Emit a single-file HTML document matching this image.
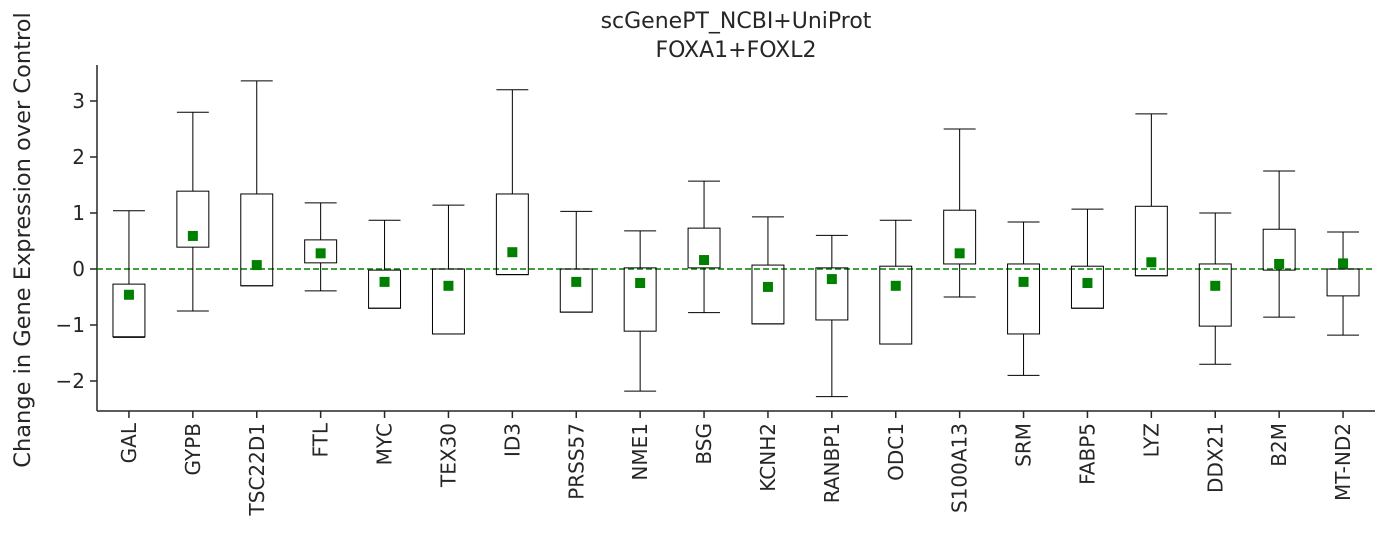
<!DOCTYPE html>
<html><head><meta charset="utf-8"><style>
html,body{margin:0;padding:0;background:#fff;}
svg{display:block;font-family:"DejaVu Sans","Liberation Sans",sans-serif;}
</style></head><body>
<svg id="chart" width="1385" height="543" viewBox="0 0 1385 543" xmlns="http://www.w3.org/2000/svg">
<text x="736" y="28" font-size="22" text-anchor="middle" fill="#262626">scGenePT_NCBI+UniProt</text>
<text x="736" y="57" font-size="22" text-anchor="middle" fill="#262626">FOXA1+FOXL2</text>
<text transform="translate(30,240) rotate(-90)" font-size="22.5" text-anchor="middle" fill="#262626">Change in Gene Expression over Control</text>
<g id="plot"></g>
</svg>
<script>
const categories = ["GAL","GYPB","TSC22D1","FTL","MYC","TEX30","ID3","PRSS57","NME1","BSG","KCNH2","RANBP1","ODC1","S100A13","SRM","FABP5","LYZ","DDX21","B2M","MT-ND2"];
const whiskerHigh = [1.04,2.8,3.36,1.18,0.87,1.14,3.2,1.03,0.68,1.57,0.93,0.6,0.87,2.5,0.84,1.07,2.77,1.0,1.75,0.66];
const q3 = [-0.27,1.39,1.34,0.52,-0.02,0,1.34,0,0.02,0.73,0.07,0.02,0.05,1.05,0.09,0.05,1.12,0.09,0.71,0];
const q1 = [-1.21,0.39,-0.3,0.11,-0.7,-1.16,-0.1,-0.77,-1.11,0.02,-0.98,-0.91,-1.34,0.09,-1.16,-0.7,-0.12,-1.02,-0.02,-0.48];
const whiskerLow = [-1.22,-0.75,-0.3,-0.39,-0.7,-1.16,-0.1,-0.77,-2.18,-0.78,-0.98,-2.28,-1.34,-0.5,-1.9,-0.7,-0.12,-1.7,-0.86,-1.18];
const means = [-0.46,0.59,0.07,0.28,-0.23,-0.3,0.3,-0.23,-0.25,0.16,-0.32,-0.18,-0.3,0.28,-0.23,-0.25,0.12,-0.3,0.09,0.1];
const yTicks = [-2,-1,0,1,2,3];

const NS="http://www.w3.org/2000/svg";
const g=document.getElementById('plot');
const X0=97,X1=1375,Y0=65,Y1=411;
const step=(X1-X0)/categories.length;
const x=i=>X0+(i+0.5)*step;
const y=v=>269-56*v;
function mk(tag,attrs){const e=document.createElementNS(NS,tag);for(const k in attrs)e.setAttribute(k,attrs[k]);g.appendChild(e);return e;}

let e;
e=mk('line',{x1:X0,y1:Y0,x2:X0,y2:Y1,stroke:'#262626','stroke-width':1.5});


e=mk('line',{x1:X0,y1:Y1,x2:X1,y2:Y1,stroke:'#262626','stroke-width':1.5});



yTicks.forEach(t=>{
  e=mk('line',{x1:X0-7,x2:X0,y1:y(t),y2:y(t),stroke:'#262626','stroke-width':1.5});
  
  
  e=mk('text',{x:X0-12,y:y(t)+7,'font-size':20,'text-anchor':'end',fill:'#262626'});
  e.textContent=(t<0?'\u2212'+(-t):String(t));
  
  
});

e=mk('line',{x1:X0,x2:X1,y1:y(0),y2:y(0),stroke:'#008000','stroke-width':1.5,'stroke-dasharray':'6,3'});



const bw=step/2;
categories.forEach((c,i)=>{
  const cx=x(i);
  e=mk('line',{x1:cx,x2:cx,y1:Y1,y2:Y1+7,stroke:'#262626','stroke-width':1.5});
  
  
  e=mk('text',{transform:`translate(${cx+7},${Y1+12}) rotate(-90)`,'font-size':20,'text-anchor':'end',fill:'#262626'});
  e.textContent=c;
  
  
  e=mk('line',{x1:cx,x2:cx,y1:y(whiskerHigh[i]),y2:y(q3[i]),stroke:'#000','stroke-width':1});
  
  
  e=mk('line',{x1:cx,x2:cx,y1:y(q1[i]),y2:y(whiskerLow[i]),stroke:'#000','stroke-width':1});
  
  
  e=mk('line',{x1:cx-bw/2,x2:cx+bw/2,y1:y(whiskerHigh[i]),y2:y(whiskerHigh[i]),stroke:'#000','stroke-width':1});
  
  
  e=mk('line',{x1:cx-bw/2,x2:cx+bw/2,y1:y(whiskerLow[i]),y2:y(whiskerLow[i]),stroke:'#000','stroke-width':1});
  
  
  e=mk('rect',{x:cx-bw/2,y:y(q3[i]),width:bw,height:Math.max(1,y(q1[i])-y(q3[i])),fill:'none',stroke:'#000','stroke-width':1});
  
  
  e=mk('rect',{x:cx-5,y:y(means[i])-5,width:10,height:10,fill:'#008000'});
  
  
});
</script>
</body></html>
